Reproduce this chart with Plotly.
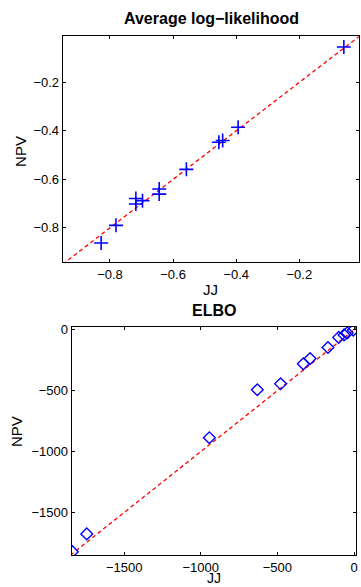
import plotly.graph_objects as go

W, H = 361, 587

# Average log-likelihood panel
ll_jj = [-0.059, -0.394, -0.443, -0.455, -0.558, -0.644, -0.644, -0.697, -0.718, -0.718, -0.781, -0.828]
ll_npv = [-0.054, -0.385, -0.440, -0.447, -0.559, -0.640, -0.661, -0.688, -0.679, -0.702, -0.790, -0.863]
ll_xrange = [-0.95, -0.011]
ll_yrange = [-0.942, -0.008]
ll_diag = [-0.95, -0.008]
ll_ticks = [-0.8, -0.6, -0.4, -0.2]

# ELBO panel
elbo_jj = [-1838, -1744, -944, -631, -479, -331, -287, -170, -100, -65, -44, -5]
elbo_npv = [-1822, -1676, -886, -492, -443, -279, -236, -145, -62, -42, -25, -3]
elbo_xrange = [-1843, 13]
elbo_yrange = [-1851, 25]
elbo_diag = [-1851, 25]
elbo_xticks = [-1500, -1000, -500, 0]
elbo_yticks = [-1500, -1000, -500, 0]

FONT = "Liberation Sans, Arial, sans-serif"
BLUE = "#0000ff"
RED = "#ff0000"

fig = go.Figure()
fig.add_trace(go.Scatter(x=ll_diag, y=ll_diag, mode="lines",
                         line=dict(color=RED, width=1.3, dash="4px,3px"),
                         xaxis="x", yaxis="y", showlegend=False))
fig.add_trace(go.Scatter(x=ll_jj, y=ll_npv, mode="markers",
                         marker=dict(symbol="cross-thin", size=10, color=BLUE,
                                     line=dict(color=BLUE, width=1.6)),
                         xaxis="x", yaxis="y", showlegend=False))
fig.add_trace(go.Scatter(x=elbo_diag, y=elbo_diag, mode="lines",
                         line=dict(color=RED, width=1.3, dash="4px,3px"),
                         xaxis="x2", yaxis="y2", showlegend=False))
fig.add_trace(go.Scatter(x=elbo_jj, y=elbo_npv, mode="markers",
                         marker=dict(symbol="diamond-open", size=9, color=BLUE,
                                     line=dict(color=BLUE, width=1.4)),
                         xaxis="x2", yaxis="y2", showlegend=False))

axis_common = dict(showline=True, linecolor="black", linewidth=1, mirror="ticks",
                   ticks="inside", ticklen=3, tickwidth=1, tickcolor="black",
                   showgrid=False, zeroline=False,
                   tickfont=dict(family=FONT, size=13, color="black"))

fig.update_layout(
    width=W, height=H,
    margin=dict(l=0, r=0, t=0, b=0),
    plot_bgcolor="white", paper_bgcolor="white",
    xaxis=dict(domain=[63 / W, 1.0], range=ll_xrange, tickvals=ll_ticks,
               ticktext=[f"\u2212{abs(v):.1f}" for v in ll_ticks], anchor="y", **axis_common),
    yaxis=dict(domain=[1 - 260 / H, 1 - 32 / H], range=ll_yrange, tickvals=ll_ticks,
               ticktext=[f"\u2212{abs(v):.1f}" for v in ll_ticks], anchor="x", **axis_common),
    xaxis2=dict(domain=[72 / W, 358 / W], range=elbo_xrange, tickvals=elbo_xticks,
                ticktext=[("\u2212" + str(abs(v))) if v < 0 else str(v) for v in elbo_xticks],
                anchor="y2", **axis_common),
    yaxis2=dict(domain=[1 - 555 / H, 1 - 325 / H], range=elbo_yrange, tickvals=elbo_yticks,
                ticktext=[("\u2212" + str(abs(v))) if v < 0 else str(v) for v in elbo_yticks],
                anchor="x2", **axis_common),
)

def ann(text, x, y, size, bold=False, angle=0):
    fig.add_annotation(text=f"<b>{text}</b>" if bold else text,
                       x=x / W, y=1 - y / H, xref="paper", yref="paper",
                       showarrow=False, xanchor="center", yanchor="middle",
                       textangle=angle,
                       font=dict(family=FONT, size=size, color="black"))

ann("Average log\u2212likelihood", 213, 15, 16, bold=True)
ann("NPV", 21, 148, 15, angle=-90)
ann("JJ", 212, 287, 15)
ann("ELBO", 215, 309, 16, bold=True)
ann("NPV", 16, 430, 15, angle=-90)
ann("JJ", 215, 578, 14)

fig.write_html(
    "out.html",
    config={"displayModeBar": False},
    post_script="document.body.style.margin='0';document.body.style.overflow='hidden';",
)
